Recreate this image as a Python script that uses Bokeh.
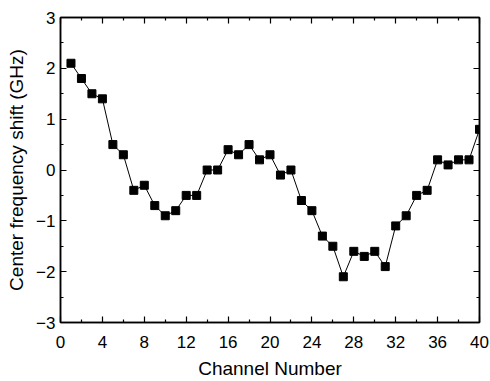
from bokeh.plotting import figure
from bokeh.models import FixedTicker, LinearAxis, Range1d
from bokeh.embed import file_html
from bokeh.resources import INLINE

channels = list(range(1, 41))
shift = [2.1, 1.8, 1.5, 1.4, 0.5, 0.3, -0.4, -0.3, -0.7, -0.9,
         -0.8, -0.5, -0.5, 0.0, 0.0, 0.4, 0.3, 0.5, 0.2, 0.3,
         -0.1, 0.0, -0.6, -0.8, -1.3, -1.5, -2.1, -1.6, -1.7, -1.6,
         -1.9, -1.1, -0.9, -0.5, -0.4, 0.2, 0.1, 0.2, 0.2, 0.8]
x_ticks = [0, 4, 8, 12, 16, 20, 24, 28, 32, 36, 40]
x_minor = [2, 6, 10, 14, 18, 22, 26, 30, 34, 38]
y_ticks = [-3, -2, -1, 0, 1, 2, 3]
y_minor = [-2.5, -1.5, -0.5, 0.5, 1.5, 2.5]

FONT = "Liberation Sans"

p = figure(width=490, height=381, output_backend="svg", toolbar_location=None,
           x_range=Range1d(0, 40), y_range=Range1d(-3, 3),
           min_border_left=60, min_border_right=11, min_border_top=17, min_border_bottom=57)
p.grid.visible = False
p.outline_line_color = "black"
p.outline_line_width = 1.5

p.line(channels, shift, line_color="black", line_width=1)
p.scatter(channels, shift, marker="square", size=8, fill_color="black", line_color="black")

def style(ax):
    ax.major_tick_in = 6
    ax.major_tick_out = 0
    ax.minor_tick_in = 3
    ax.minor_tick_out = 0
    ax.axis_line_width = 1.5
    ax.major_tick_line_width = 1.2
    ax.minor_tick_line_width = 1.2
    ax.major_label_text_font = FONT
    ax.major_label_text_font_size = "17px"
    ax.major_label_text_color = "black"
    ax.axis_label_text_font = FONT
    ax.axis_label_text_font_size = "19px"
    ax.axis_label_text_font_style = "normal"
    ax.axis_label_text_color = "black"

p.xaxis.ticker = FixedTicker(ticks=x_ticks, minor_ticks=x_minor)
p.yaxis.ticker = FixedTicker(ticks=y_ticks, minor_ticks=y_minor)
p.xaxis.axis_label = "Channel Number"
p.yaxis.axis_label = "Center frequency shift (GHz)"
style(p.xaxis[0])
style(p.yaxis[0])
p.xaxis.major_label_standoff = 13
p.yaxis.major_label_standoff = 5
p.xaxis.axis_label_standoff = 7
p.yaxis.axis_label_standoff = 6

top = LinearAxis(ticker=FixedTicker(ticks=x_ticks, minor_ticks=x_minor),
                 major_label_overrides={t: "" for t in x_ticks})
style(top)
p.add_layout(top, "above")
right = LinearAxis(ticker=FixedTicker(ticks=y_ticks, minor_ticks=y_minor),
                   major_label_overrides={t: "" for t in y_ticks})
style(right)
p.add_layout(right, "right")

open("out.html", "w").write(file_html(p, INLINE))
